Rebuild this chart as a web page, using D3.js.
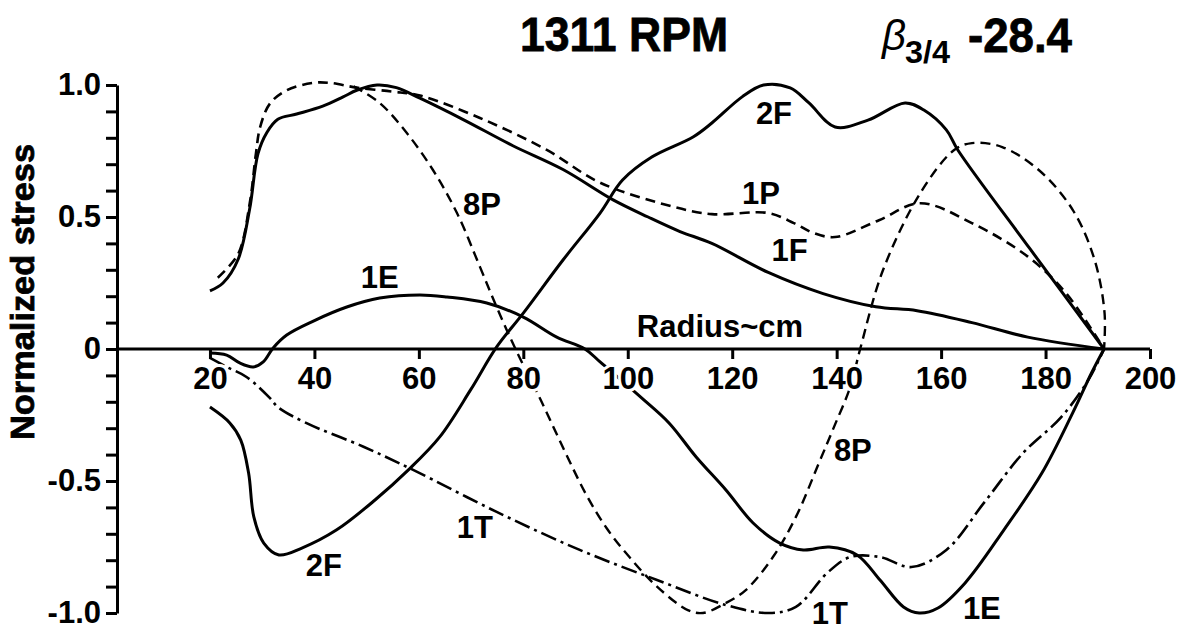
<!DOCTYPE html>
<meta charset="utf-8">
<style>
body { margin: 0; background: #fff; }
svg { font-family: "Liberation Sans", Arial, Helvetica, sans-serif; font-weight: bold; }
.axis path, .axis line { stroke: #000; stroke-width: 3px; }
.axis text { font-size: 31px; font-weight: bold; fill: #000; }
.curve { fill: none; stroke: #000; stroke-linejoin: round; stroke-linecap: butt; }
.lbl { font-size: 31px; fill: #000; stroke: #fff; stroke-width: 6px; paint-order: stroke; }
.heavy { stroke: #000; stroke-width: 0.8px; }
</style>
<svg width="1184" height="632"></svg>
<script src="https://d3js.org/d3.v7.min.js"></script>
<script>

// radius (cm), normalized stress
var s1F = [[20,0.22],[22.5,0.25],[25.4,0.34],[27.6,0.53],[29.2,0.74],[30.9,0.82],[33,0.87],[36.6,0.89],
  [41.6,0.92],[45.5,0.955],[48.1,0.98],[52,1.0],[55.7,0.99],[60.2,0.95],[68.4,0.87],[78,0.77],[87.6,0.68],
  [97.2,0.565],[103.9,0.5],[110,0.445],[116.1,0.40],[126.9,0.29],[137.4,0.21],[147.5,0.16],[155.4,0.145],
  [165.9,0.1],[176.6,0.045],[191.2,0]];

var s1P = [[21.5,0.27],[25.4,0.36],[27.6,0.55],[28.8,0.74],[29.6,0.84],[31.5,0.93],[34.7,0.98],[39.7,1.008],
  [43,1.008],[48.1,0.99],[55,0.975],[60.2,0.96],[71.7,0.875],[84.5,0.754],[94.7,0.63],[108.9,0.538],
  [116.1,0.511],[126.9,0.515],[131.8,0.477],[135.5,0.44],[139.7,0.424],[148.1,0.488],[156,0.552],
  [165.9,0.477],[176.6,0.35],[183.9,0.212],[191.2,0]];

var s2F = [[20,-0.22],[23.8,-0.28],[25.9,-0.345],[27.4,-0.47],[28.4,-0.636],[30.3,-0.735],[33.2,-0.78],
  [37.6,-0.754],[44.2,-0.686],[51.6,-0.572],[58,-0.458],[64,-0.333],[69.9,-0.155],[74.9,0.008],[80,0.136],
  [87.6,0.337],[94.7,0.515],[99,0.64],[104.6,0.727],[112.5,0.803],[116.1,0.856],[121.9,0.955],[126,1.0],
  [131.1,0.989],[134.7,0.932],[139.7,0.841],[146,0.867],[153.1,0.932],[156.7,0.905],[161,0.83],
  [163.2,0.754],[177,0.38],[191.2,0]];

var s1E = [[20,-0.015],[23.2,-0.023],[25.7,-0.053],[28.3,-0.068],[30.2,-0.049],[32.1,0.004],[34.7,0.053],
  [39.7,0.105],[46.2,0.159],[52.5,0.193],[60.2,0.205],[65.4,0.197],[73,0.174],[80,0.121],[86.4,0.045],
  [91.8,0],[94.7,-0.049],[102.7,-0.186],[107.9,-0.28],[113.1,-0.409],[118.8,-0.534],[124,-0.659],
  [129.1,-0.735],[133.6,-0.761],[138.6,-0.75],[143.9,-0.78],[148.3,-0.875],[152.8,-0.977],[155.8,-1.0],
  [159.4,-0.981],[164.6,-0.886],[172,-0.686],[179.3,-0.47],[185.2,-0.242],[188.8,-0.091],[191.2,0]];

var s1T = [[20,-0.034],[23.2,-0.068],[27,-0.106],[31.5,-0.186],[33,-0.22],[38.4,-0.28],[49.5,-0.371],
  [58.9,-0.458],[74.9,-0.617],[90.8,-0.761],[105.6,-0.875],[118.8,-0.97],[127,-1.0],[132.2,-0.977],
  [138.2,-0.848],[142.6,-0.788],[148.3,-0.788],[154.3,-0.826],[161,-0.761],[168.2,-0.583],[175.7,-0.394],
  [183,-0.258],[188.2,-0.117],[191.2,0]];

var s8P = [[47.5,0.995],[52.5,0.932],[57.7,0.818],[62.7,0.678],[67.3,0.515],[71.7,0.311],[74.9,0.159],
  [78.5,0],[83.5,-0.2],[88,-0.39],[92,-0.55],[96,-0.68],[100.4,-0.79],[105.6,-0.9],
  [111.5,-0.989],[114.4,-1.0],[118.8,-0.962],[122.6,-0.913],[127.8,-0.788],[132.2,-0.636],[136.6,-0.432],
  [139.5,-0.295],[142.6,-0.144],[144.5,0],[148.9,0.3],[156,0.59],[162.5,0.754],[165.9,0.78],[171.7,0.765],
  [178.7,0.678],[185.2,0.527],[189.4,0.337],[191.3,0.136],[191.2,0]];

var xTicks = [20, 40, 60, 80, 100, 120, 140, 160, 180, 200];
var yLabels = {"10": "1.0", "5": "0.5", "0": "0", "-5": "-0.5", "-10": "-1.0"};

var curveLabels = [
  {t: "1E", r: 52.5, s: 0.275}, {t: "8P", r: 72.1, s: 0.55}, {t: "2F", r: 128, s: 0.894},
  {t: "1P", r: 125.5, s: 0.59}, {t: "1F", r: 131, s: 0.375}, {t: "8P", r: 143.1, s: -0.383},
  {t: "1T", r: 70.7, s: -0.674}, {t: "2F", r: 41.8, s: -0.818}, {t: "1T", r: 138.7, s: -1.0},
  {t: "1E", r: 167.8, s: -0.98}
];

var svg = d3.select("svg");

var x = d3.scaleLinear().domain([2.2, 200]).range([117, 1150]);
var y = d3.scaleLinear().domain([-1, 1]).range([613, 85]);

var line = d3.line()
    .x(function(d) { return x(d[0]); })
    .y(function(d) { return y(d[1]); })
    .curve(d3.curveCatmullRom.alpha(0.5));

// axes
svg.append("g")
    .attr("class", "axis")
    .attr("transform", "translate(" + x.range()[0] + ",0)")
    .call(d3.axisLeft(y)
      .tickValues(d3.range(-10, 11).map(function(d) { return d / 10; }))
      .tickSize(11).tickSizeOuter(0).tickPadding(5)
      .tickFormat(function(d) { var k = String(Math.round(d * 10)); return yLabels[k] || ""; }));

var xg = svg.append("g")
    .attr("class", "axis")
    .attr("transform", "translate(0," + y(0) + ")")
    .call(d3.axisBottom(x).tickValues(xTicks).tickSize(10).tickSizeOuter(0).tickPadding(8));
xg.select(".domain").remove();
xg.insert("line", ":first-child")
    .attr("x1", x.range()[0]).attr("x2", x(200))
    .attr("stroke", "#000").attr("stroke-width", 3);

// curves
function drawCurve(data, width, dash) {
  svg.append("path")
      .datum(data)
      .attr("class", "curve")
      .attr("stroke-width", width)
      .attr("stroke-dasharray", dash)
      .attr("d", line);
}
drawCurve(s1F, 3, null);
drawCurve(s2F, 3, null);
drawCurve(s1E, 3, null);
drawCurve(s1P, 2.6, "10,6");
drawCurve(s8P, 2.4, "10,6");
drawCurve(s1T, 2.6, "16,5,3,5");

// x tick labels above curves, with white halo to break lines like the original
xg.selectAll(".tick text")
    .attr("stroke", "#fff").attr("stroke-width", 6).attr("paint-order", "stroke");
xg.raise();

svg.selectAll(".clbl")
  .data(curveLabels)
  .enter().append("text")
    .attr("class", "lbl")
    .attr("text-anchor", "middle")
    .attr("x", function(d) { return x(d.r); })
    .attr("y", function(d) { return y(d.s); })
    .attr("dy", "0.36em")
    .text(function(d) { return d.t; });

svg.append("text")
    .attr("class", "lbl")
    .attr("text-anchor", "middle")
    .attr("x", 720).attr("y", 337)
    .text("Radius~cm");

svg.append("text")
    .attr("class", "heavy")
    .attr("transform", "translate(34,292) rotate(-90)")
    .attr("text-anchor", "middle")
    .attr("textLength", 296).attr("lengthAdjust", "spacingAndGlyphs")
    .style("font-size", "33px")
    .text("Normalized stress");

// title
svg.append("text")
    .attr("class", "heavy")
    .attr("x", 520).attr("y", 51)
    .attr("textLength", 208).attr("lengthAdjust", "spacingAndGlyphs")
    .style("font-size", "49px")
    .text("1311 RPM");

svg.append("text")
    .attr("x", 882).attr("y", 50)
    .style("font-size", "42px").style("font-style", "italic").style("font-weight", "normal")
    .text("β");

svg.append("text")
    .attr("x", 905).attr("y", 63)
    .attr("textLength", 45).attr("lengthAdjust", "spacingAndGlyphs")
    .style("font-size", "31px")
    .text("3/4");

svg.append("text")
    .attr("class", "heavy")
    .attr("x", 968).attr("y", 52)
    .attr("textLength", 104).attr("lengthAdjust", "spacingAndGlyphs")
    .style("font-size", "49px")
    .text("-28.4");

</script>
